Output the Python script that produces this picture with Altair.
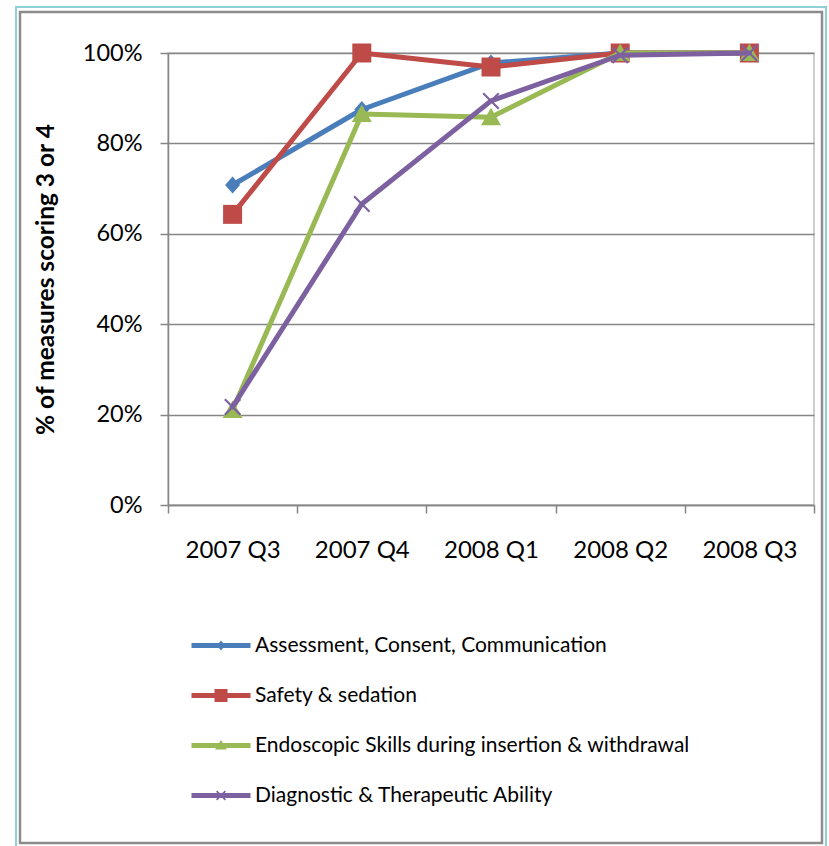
import altair as alt
import pandas as pd

quarters = ["2007 Q3", "2007 Q4", "2008 Q1", "2008 Q2", "2008 Q3"]
series = [
    "Assessment, Consent, Communication",
    "Safety & sedation",
    "Endoscopic Skills during insertion & withdrawal",
    "Diagnostic & Therapeutic Ability",
]
assessment = [0.708, 0.875, 0.978, 1.0, 1.0]
safety = [0.643, 1.0, 0.969, 1.0, 1.0]
endoscopic = [0.21, 0.865, 0.858, 1.0, 1.0]
diagnostic = [0.217, 0.666, 0.894, 0.995, 1.0]
y_ticks = [0, 0.2, 0.4, 0.6, 0.8, 1.0]

colors = ["#4A7EBB", "#BE4B48", "#98B954", "#7D60A0"]


def xpath(e, d):
    pts = [(-e + d, -e), (0, -d), (e - d, -e), (e, -e + d), (d, 0), (e, e - d),
           (e - d, e), (0, d), (-e + d, e), (-e, e - d), (-d, 0), (-e, -e + d)]
    return "M" + "L".join(f"{x:.3f},{y:.3f}" for x, y in pts) + "Z"


chart_shapes = [
    "M0,-0.85L0.75,0L0,0.85L-0.75,0Z",
    "M-0.95,-0.95H0.95V0.95H-0.95Z",
    "M0,-0.95L1,0.8H-1Z",
    xpath(0.85, 0.15),
]
leg_line = "M-2.95,-0.25H2.95V0.25H-2.95Z"
legend_shapes = [
    leg_line + "M0,-0.5L0.4,0L0,0.5L-0.4,0Z",
    leg_line + "M-0.65,-0.65H0.65V0.65H-0.65Z",
    leg_line + "M0,-0.55L0.6,0.4H-0.6Z",
    leg_line + xpath(0.5, 0.12),
]

rows = []
for name, vals in zip(series, [assessment, safety, endoscopic, diagnostic]):
    for q, v in zip(quarters, vals):
        rows.append({"series": name, "quarter": q, "value": v})
df = pd.DataFrame(rows)

shape_expr = (
    "[" + ",".join(f"'{p}'" for p in legend_shapes) + "][indexof(["
    + ",".join(f"'{s}'" for s in series) + "], datum.value)]"
)

FONT = "Lato"
AX = "#868686"

x_enc = alt.X(
    "quarter:N",
    sort=quarters,
    scale=alt.Scale(type="band", domain=quarters, paddingInner=0, paddingOuter=0),
    axis=alt.Axis(
        title=None, labelAngle=0, labelFont=FONT, labelFontSize=24, labelColor="black",
        labelPadding=25, tickSize=8, tickBand="extent", tickColor=AX, tickWidth=1.5,
        domainColor=AX, domainWidth=1.5, grid=False,
    ),
)
y_enc = alt.Y(
    "value:Q",
    scale=alt.Scale(domain=[0, 1], nice=False),
    axis=alt.Axis(
        values=y_ticks, format=".0%", labelFont=FONT, labelFontSize=23.5, labelColor="black",
        labelPadding=18, tickSize=8, tickColor=AX, tickWidth=1.5, domainColor=AX,
        domainWidth=1.5, gridColor=AX, gridWidth=1.5,
        title="% of measures scoring 3 or 4", titleFont=FONT, titleFontSize=24.5,
        titleFontWeight="bold", titleColor="black", titleAngle=270, titleX=-115,
        titleY=226, titleBaseline="alphabetic", titleAlign="center",
    ),
)

legend = alt.Legend(
    orient="none", legendX=42.5, legendY=582, title=None, padding=0,
    symbolSize=400, symbolStrokeWidth=0, labelOffset=23.5, rowPadding=28,
    labelFont=FONT, labelFontSize=21, labelColor="black", labelLimit=700,
    symbolType={"expr": shape_expr}, symbolOpacity=1,
)

base = alt.Chart(df)
layers = []

frame_data = alt.Data(values=[{"k": 0}])
layers.append(alt.Chart(frame_data).mark_rect(fillOpacity=0, stroke="#8FD0D8", strokeWidth=2).encode(
    x=alt.value(-152), x2=alt.value(658), y=alt.value(-46), y2=alt.value(800)
))
layers.append(alt.Chart(frame_data).mark_rect(fillOpacity=0, stroke="#8C8C8C", strokeWidth=2.5).encode(
    x=alt.value(-148), x2=alt.value(654), y=alt.value(-41), y2=alt.value(790)
))

for name, col, shp in zip(series, colors, chart_shapes):
    sub = base.transform_filter(alt.datum.series == name)
    layers.append(sub.mark_line(strokeWidth=5, strokeJoin="round", strokeCap="round", color=col).encode(
        x=x_enc, y=y_enc
    ))
    layers.append(sub.mark_point(filled=True, size=400, opacity=1, strokeWidth=0, fill=col, shape=shp).encode(
        x=x_enc, y=y_enc
    ))

# legend carrier: no marks drawn, legend entries come from the colour scale domain
layers.append(base.transform_filter("false").mark_point(filled=True, size=400, opacity=1).encode(
    x=x_enc, y=y_enc,
    color=alt.Color("series:N", scale=alt.Scale(domain=series, range=colors), legend=legend),
))

chart = alt.layer(*layers).properties(
    width=646, height=452,
    autosize="none",
    padding={"left": 168, "top": 53, "right": 15, "bottom": 341},
    background="white",
).configure_view(stroke="#BFBFBF", strokeWidth=1.5)

chart.save("out.html", embed_options={"renderer": "svg", "actions": False})
